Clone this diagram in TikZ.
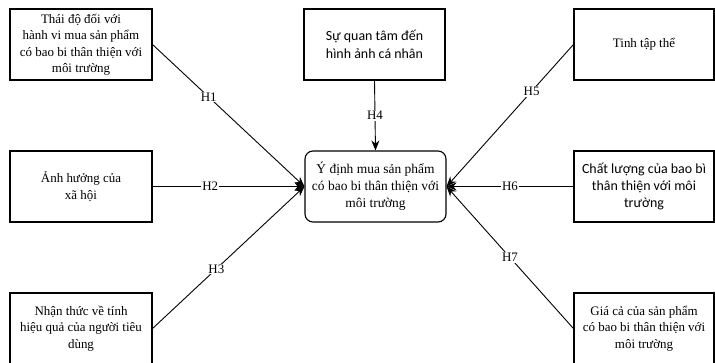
\documentclass[tikz,border=0pt]{standalone}
\usepackage{fontspec}
\setmainfont{Liberation Serif}
\newfontfamily\calfont{Carlito}
\usetikzlibrary{arrows.meta}
\begin{document}
\begin{tikzpicture}[x=1bp,y=-1bp,
 box/.style={draw, line width=1.1bp, minimum width=142bp, minimum height=71bp, inner sep=0pt, align=center, font=\fontsize{13}{16.5}\selectfont},
 sbox/.style={box, font=\calfont\fontsize{14}{17.5}\selectfont},
 cbox/.style={box, rounded corners=8bp, font=\fontsize{13.5}{17}\selectfont},
 arr/.style={line width=0.9bp, -{Stealth[length=10bp,width=8bp]}},
 lab/.style={fill=white, inner sep=1bp, font=\fontsize{13}{14}\selectfont}]
\useasboundingbox (0,0) rectangle (715,362);
\node[box] (b1) at (81,44.5) {Thái độ đối với\\hành vi mua sản phẩm\\có bao bi thân thiện với\\môi trường};
\node[box] (b2) at (81,186.5) {Ảnh hưởng của\\xã hội};
\node[box] (b3) at (81,328.5) {Nhận thức về tính\\hiệu quả của người tiêu\\dùng};
\node[sbox, minimum width=141bp] (b4) at (374.5,44.5) {Sự quan tâm đến\\hình ảnh cá nhân};
\node[cbox, minimum width=141bp] (c) at (375.5,186.5) {Ý định mua sản phẩm\\có bao bi thân thiện với\\môi trường};
\node[box, minimum width=140bp] (b5) at (644,44.5) {Tinh tập thể};
\node[sbox, minimum width=140bp] (b6) at (644,186.5) {Chất lượng của bao bì\\thân thiện với môi\\trường};
\node[box, minimum width=140bp] (b7) at (644,328.5) {Giá cả của sản phẩm\\có bao bi thân thiện với\\môi trường};
\draw[arr] (b1.east) -- node[lab, pos=0.37] {H1} (c.west);
\draw[arr] (b2.east) -- node[lab, pos=0.38] {H2} (c.west);
\draw[arr] (b3.east) -- node[lab, pos=0.42] {H3} (c.west);
\draw[arr] (b4.south) -- node[lab, pos=0.5] {H4} (c.north);
\draw[arr] (b5.west) -- node[lab, pos=0.33] {H5} (c.east);
\draw[arr] (b6.west) -- node[lab, pos=0.5] {H6} (c.east);
\draw[arr] (b7.west) -- node[lab, pos=0.5] {H7} (c.east);
\end{tikzpicture}
\end{document}
